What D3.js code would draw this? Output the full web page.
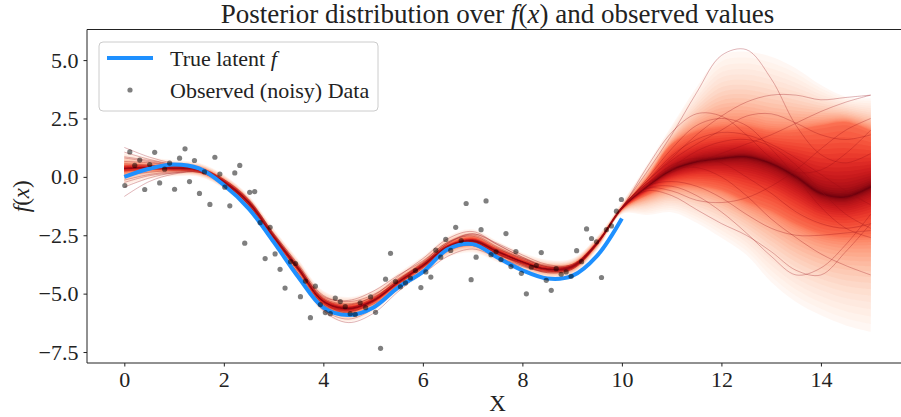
<!DOCTYPE html>
<html>
<head>
<meta charset="utf-8">
<script src="https://cdn.jsdelivr.net/npm/d3@7"></script>
<style>
  body { margin: 0; background: #fff; }
  svg { display: block; font-family: "Liberation Serif", "DejaVu Serif", serif; }
</style>
</head>
<body>
<div id="chart"></div>
<script>
// grid the posterior was evaluated on
const gridX = [0, 0.5, 1, 1.5, 2, 2.5, 3, 3.5, 4, 4.5, 5, 5.5, 6, 6.5, 7, 7.5, 8, 8.5, 9, 9.5,
  10, 10.5, 11, 11.5, 12, 12.5, 13, 13.5, 14, 14.5, 15]

// posterior median and spread (distance from the median to the 75th / 99th percentile)
const postMedian = [0.36, 0.40, 0.37, 0.30, -0.21, -1.1, -2.57, -3.95, -5.33, -5.64, -5.3, -4.52, -3.8, -3.0, -2.74,
  -3.2, -3.64, -3.95, -3.85, -2.85, -1.35, -0.43, 0.29, 0.64, 0.79, 0.86, 0.57, 0.0, -0.71, -0.86, -0.43]
const q75Up = [0.15, 0.1, 0.1, 0.1, 0.1, 0.1, 0.1, 0.1, 0.12, 0.15, 0.12, 0.1, 0.1, 0.12, 0.15, 0.12, 0.1, 0.1, 0.1, 0.08,
  0.06, 0.35, 1.1, 1.3, 1.35, 1.3, 1.4, 2.0, 2.9, 3.2, 2.4]
const q75Down = [0.15, 0.1, 0.1, 0.1, 0.1, 0.1, 0.1, 0.1, 0.12, 0.15, 0.12, 0.1, 0.1, 0.12, 0.15, 0.12, 0.1, 0.1, 0.1, 0.08,
  0.06, 0.35, 0.7, 1.0, 1.35, 1.9, 2.0, 2.0, 1.7, 1.7, 2.1]
const q99Up = [0.7, 0.45, 0.35, 0.3, 0.3, 0.3, 0.35, 0.4, 0.45, 0.5, 0.45, 0.4, 0.4, 0.45, 0.5, 0.45, 0.4, 0.4, 0.35, 0.3,
  0.25, 0.95, 1.9, 3.2, 4.4, 4.5, 4.57, 4.64, 4.64, 4.29, 3.8]
const q99Down = [0.8, 0.5, 0.35, 0.3, 0.3, 0.3, 0.35, 0.4, 0.5, 0.6, 0.5, 0.4, 0.4, 0.45, 0.5, 0.45, 0.4, 0.4, 0.35, 0.3,
  0.25, 1.2, 1.8, 2.6, 3.4, 4.2, 5.07, 5.36, 5.22, 5.5, 6.2]

// a few posterior draws: small wiggle round the median for x < 10, values for x = 10 .. 15
const sampleWiggle = [
  [0.5, 0.3, 0.15, 0.1, 0.1, 0.12, 0.15, 0.2, 0.25, 0.3, 0.25, 0.15, 0.1, 0.15, 0.25, 0.2, 0.15, 0.1, 0.05, 0.0],
  [-0.6, -0.35, -0.2, -0.1, -0.05, -0.08, -0.15, -0.25, -0.35, -0.45, -0.35, -0.2, -0.1, -0.1, -0.2, -0.25, -0.2, -0.1, -0.05, 0.0],
  [0.3, 0.2, 0.1, 0.0, -0.05, -0.05, 0.0, 0.05, 0.1, 0.15, 0.2, 0.25, 0.3, 0.35, 0.4, 0.3, 0.2, 0.15, 0.1, 0.05],
  [-1.2, -0.6, -0.25, -0.1, -0.05, -0.1, -0.2, -0.3, -0.4, -0.6, -0.55, -0.4, -0.25, -0.15, -0.1, -0.1, -0.15, -0.15, -0.1, -0.05],
  [0.1, 0.1, 0.05, 0.0, -0.05, -0.1, -0.1, -0.05, 0.0, 0.05, 0.1, 0.1, 0.05, 0.0, -0.05, -0.1, -0.1, -0.05, 0.0, 0.0],
  [0.7, 0.35, 0.15, 0.05, 0.0, 0.05, 0.1, 0.1, 0.05, 0.0, -0.05, 0.0, 0.05, 0.15, 0.3, 0.35, 0.3, 0.2, 0.1, 0.05],
  [-0.3, -0.2, -0.1, -0.05, 0.0, 0.05, 0.1, 0.05, -0.05, -0.2, -0.3, -0.3, -0.2, -0.1, 0.0, 0.05, 0.0, -0.05, -0.05, 0.0],
  [0.2, 0.1, 0.05, 0.05, 0.1, 0.15, 0.1, 0.0, -0.15, -0.3, -0.25, -0.1, 0.0, 0.05, 0.0, -0.05, -0.1, -0.15, -0.1, -0.05],
  [-0.5, -0.3, -0.15, -0.05, 0.0, 0.0, -0.05, -0.1, -0.1, -0.05, 0.05, 0.1, 0.15, 0.2, 0.2, 0.15, 0.1, 0.05, 0.0, 0.0],
  [0.45, 0.25, 0.1, 0.0, -0.05, -0.1, -0.15, -0.2, -0.2, -0.15, -0.05, 0.05, 0.1, 0.05, -0.05, -0.1, -0.05, 0.0, 0.05, 0.05],
  [-0.8, -0.45, -0.2, -0.1, -0.1, -0.15, -0.2, -0.2, -0.15, -0.1, -0.15, -0.25, -0.35, -0.4, -0.35, -0.25, -0.15, -0.1, -0.05, -0.05],
  [0.0, 0.0, 0.0, 0.05, 0.05, 0.1, 0.15, 0.15, 0.1, 0.05, 0.0, -0.05, -0.05, 0.0, 0.05, 0.1, 0.15, 0.1, 0.05, 0.0],
  [-0.1, -0.1, -0.05, 0.0, 0.0, 0.0, 0.05, 0.1, 0.15, 0.2, 0.15, 0.05, -0.05, -0.15, -0.2, -0.15, -0.05, 0.0, 0.0, 0.0],
  [0.9, 0.45, 0.2, 0.1, 0.05, 0.05, 0.05, 0.1, 0.2, 0.35, 0.4, 0.3, 0.2, 0.2, 0.3, 0.3, 0.2, 0.1, 0.05, 0.05]
]
const sampleTails = [
  [-1.3, 0.2, 1.8, 3.6, 5.2, 5.45, 4.2, 2.2, 0.95, 0.6, 1.0],
  [-1.35, 0.4, 1.9, 2.7, 2.6, 1.8, 0.8, 0.2, 0.3, 1.0, 2.0],
  [-1.3, -0.2, 0.8, 1.8, 2.6, 3.2, 3.5, 3.5, 3.3, 3.4, 3.5],
  [-1.3, -0.3, 0.2, 0.6, 1.0, 1.4, 1.8, 2.3, 2.8, 3.2, 3.5],
  [-1.35, -0.1, 1.2, 2.2, 2.5, 2.2, 1.2, 0.0, -1.3, -2.2, -2.6],
  [-1.3, -0.5, -0.4, -0.8, -1.5, -2.4, -3.4, -4.2, -3.9, -2.9, -1.6],
  [-1.3, -0.6, -0.8, -1.4, -2.0, -2.5, -3.2, -4.0, -4.2, -3.2, -2.0],
  [-1.35, -0.4, 0.3, 0.4, 0.0, -0.8, -1.8, -2.6, -3.3, -3.8, -4.2],
  [-1.3, -0.3, 0.5, 0.8, 0.6, 0.0, -0.7, -1.5, -2.0, -2.2, -2.0],
  [-1.3, -0.2, 0.9, 1.6, 1.9, 1.8, 1.4, 0.8, 0.1, -0.6, -1.2],
  [-1.3, -0.4, -0.2, -0.4, -0.9, -1.6, -2.2, -2.5, -2.5, -2.4, -2.3],
  [-1.3, -0.3, 0.4, 1.1, 1.5, 1.6, 1.3, 0.5, -0.6, -1.6, -2.2],
  [-1.35, -0.5, -0.6, -1.0, -1.1, -0.9, -0.4, 0.3, 1.2, 2.0, 2.5],
  [-1.3, -0.2, 0.7, 1.4, 2.0, 2.6, 2.7, 2.3, 1.8, 1.6, 1.8]
]

// true latent function on x = 0 .. 10
const trueX = [0, 0.5, 1, 1.5, 2, 2.5, 3, 3.5, 4, 4.5, 5, 5.5, 6, 6.5, 7, 7.5, 8, 8.5, 9, 9.5, 10]
const trueF = [0.0, 0.35, 0.53, 0.36, -0.35, -1.36, -2.78, -4.3, -5.6, -5.92, -5.6, -4.74, -4.07, -3.1, -2.88,
  -3.45, -4.0, -4.35, -4.24, -3.38, -1.78]

// observed noisy data
const obsX = [0.01, 0.11, 0.21, 0.31, 0.41, 0.51, 0.61, 0.71, 0.81, 0.91, 1.01, 1.11, 1.22, 1.31, 1.41, 1.51, 1.61,
  1.72, 1.82, 1.92, 2.02, 2.12, 2.22, 2.32, 2.42, 2.52, 2.62, 2.73, 2.83, 2.93, 3.03, 3.13, 3.23, 3.34, 3.44, 3.54,
  3.64, 3.74, 3.84, 3.94, 4.04, 4.14, 4.24, 4.34, 4.44, 4.54, 4.64, 4.74, 4.85, 4.95, 5.05, 5.15, 5.25, 5.35, 5.45,
  5.55, 5.65, 5.75, 5.85, 5.96, 6.06, 6.16, 6.26, 6.36, 6.46, 6.56, 6.66, 6.77, 6.87, 6.97, 7.07, 7.17, 7.27, 7.37,
  7.47, 7.57, 7.67, 7.77, 7.87, 7.98, 8.08, 8.18, 8.28, 8.38, 8.48, 8.58, 8.68, 8.78, 8.88, 8.98, 9.09, 9.19, 9.29,
  9.39, 9.49, 9.59, 9.69, 9.79, 9.89, 9.99]
const obsY = [-0.37, 1.07, 0.49, 0.72, -0.54, 0.53, 1.05, -0.26, 0.33, 0.59, -0.53, 0.80, 1.20, -0.20, 0.70, -0.71,
  0.21, -1.18, 0.84, 0.12, -0.44, -1.24, 0.17, 0.49, -2.84, -0.66, -0.63, -1.96, -3.50, -2.16, -3.30, -3.96, -4.76,
  -3.63, -3.71, -5.13, -4.46, -6.03, -4.68, -5.47, -5.81, -5.86, -5.19, -5.34, -5.56, -5.86, -5.89, -5.39, -5.60,
  -5.14, -5.80, -7.34, -4.38, -3.28, -4.48, -4.71, -4.54, -4.33, -4.01, -4.74, -4.07, -4.29, -3.14, -3.44, -2.68,
  -3.15, -2.16, -2.73, -1.14, -4.40, -3.44, -2.26, -1.03, -3.33, -3.21, -3.54, -2.43, -3.84, -3.20, -4.13, -5.01,
  -3.87, -3.80, -3.24, -4.43, -4.86, -3.93, -4.17, -4.07, -4.26, -3.16, -3.63, -2.23, -2.64, -2.78, -4.31, -2.26,
  -2.10, -1.47, -0.97]

const xTicks = [0, 2, 4, 6, 8, 10, 12, 14]
const yTicks = [-7.5, -5, -2.5, 0, 2.5, 5]

const width = 901
const height = 417
const plot = { left: 87, right: 908, top: 29.5, bottom: 363 }

const svg = d3.select("#chart").append("svg")
  .attr("width", width)
  .attr("height", height)

const x = d3.scaleLinear().domain([-0.75, 15.75]).range([plot.left, plot.right])
const y = d3.scaleLinear().domain([-7.97, 6.31]).range([plot.bottom, plot.top])

// percentile bands, outermost (lightest) first, like plot_gp_dist
const percs = d3.range(40).map((i) => 51 + i * 48 / 39)
// inner percentiles bunch up near the median, the lightest ones spread out to the 99th
const offset = (p, q75, q99) => p <= 75
  ? q75 * Math.pow((p - 50) / 25, 1.7)
  : q75 + (q99 - q75) * Math.pow((p - 75) / 24, 1.6)
const curve = d3.curveCatmullRom.alpha(0.5)

const bands = svg.append("g")
percs.slice().reverse().forEach((p) => {
  const area = d3.area()
    .x((d, i) => x(gridX[i]))
    .y0((d, i) => y(postMedian[i] - offset(p, q75Down[i], q99Down[i])))
    .y1((d, i) => y(postMedian[i] + offset(p, q75Up[i], q99Up[i])))
    .curve(curve)
  bands.append("path")
    .attr("d", area(gridX))
    .attr("fill", d3.interpolateReds((99 - p) / 48))
    .attr("fill-opacity", 0.8)
})

// sample paths
const samples = sampleTails.map((tail, k) =>
  gridX.map((gx, i) => i < 20 ? postMedian[i] + sampleWiggle[k][i] : tail[i - 20]))

const sampleLine = d3.line()
  .x((d, i) => x(gridX[i]))
  .y((d) => y(d))
  .curve(curve)

svg.append("g")
  .selectAll("path")
  .data(samples)
  .join("path")
  .attr("d", sampleLine)
  .attr("fill", "none")
  .attr("stroke", d3.interpolateReds(0.9))
  .attr("stroke-width", 1)
  .attr("stroke-opacity", 0.3)

// true latent f
const trueLine = d3.line()
  .x((d, i) => x(trueX[i]))
  .y((d) => y(d))
  .curve(curve)

svg.append("path")
  .attr("d", trueLine(trueF))
  .attr("fill", "none")
  .attr("stroke", "#1e90ff")
  .attr("stroke-width", 4)

// observed points
svg.append("g")
  .selectAll("circle")
  .data(obsX)
  .join("circle")
  .attr("cx", (d) => x(d))
  .attr("cy", (d, i) => y(obsY[i]))
  .attr("r", 2.6)
  .attr("fill", "#000")
  .attr("fill-opacity", 0.5)

// axes
const xAxis = svg.append("g")
  .attr("transform", `translate(0,${plot.bottom})`)
  .call(d3.axisBottom(x).tickValues(xTicks).tickFormat(d3.format("d")).tickSize(3.5).tickPadding(5))
const yAxis = svg.append("g")
  .attr("transform", `translate(${plot.left},0)`)
  .call(d3.axisLeft(y).tickValues(yTicks).tickFormat(d3.format(".1f")).tickSize(3.5).tickPadding(5))

;[xAxis, yAxis].forEach((ax) => {
  ax.select(".domain").remove()
  ax.selectAll("line").attr("stroke", "#222")
  ax.selectAll("text")
    .attr("fill", "#222")
    .style("font-size", "22px")
    .style("font-family", '"Liberation Serif", serif')
})

// spines
const spines = svg.append("g").attr("stroke", "#222").attr("stroke-width", 1)
spines.append("line").attr("x1", plot.left).attr("x2", plot.left).attr("y1", plot.top).attr("y2", plot.bottom)
spines.append("line").attr("x1", plot.left).attr("x2", width).attr("y1", plot.bottom).attr("y2", plot.bottom)
spines.append("line").attr("x1", plot.left).attr("x2", width).attr("y1", plot.top).attr("y2", plot.top)

// title and labels
const title = svg.append("text")
  .attr("x", (plot.left + plot.right) / 2)
  .attr("y", 23)
  .attr("text-anchor", "middle")
  .style("font-size", "27px")
  .attr("fill", "#222")
title.append("tspan").text("Posterior distribution over ")
title.append("tspan").text("f").style("font-style", "italic")
title.append("tspan").text("(")
title.append("tspan").text("x").style("font-style", "italic")
title.append("tspan").text(") and observed values")

svg.append("text")
  .attr("x", (plot.left + plot.right) / 2)
  .attr("y", 411)
  .attr("text-anchor", "middle")
  .style("font-size", "23px")
  .attr("fill", "#222")
  .text("X")

const ylab = svg.append("text")
  .attr("transform", `translate(29,${(plot.top + plot.bottom) / 2}) rotate(-90)`)
  .attr("text-anchor", "middle")
  .style("font-size", "23px")
  .attr("fill", "#222")
ylab.append("tspan").text("f").style("font-style", "italic")
ylab.append("tspan").text("(")
ylab.append("tspan").text("x").style("font-style", "italic")
ylab.append("tspan").text(")")

// legend
const legend = svg.append("g")
legend.append("rect")
  .attr("x", 99).attr("y", 42).attr("width", 279).attr("height", 69).attr("rx", 4)
  .attr("fill", "#fff").attr("fill-opacity", 0.8)
  .attr("stroke", "#ccc")
legend.append("line")
  .attr("x1", 107).attr("x2", 153).attr("y1", 58).attr("y2", 58)
  .attr("stroke", "#1e90ff").attr("stroke-width", 4)
legend.append("circle")
  .attr("cx", 130).attr("cy", 90).attr("r", 2.6)
  .attr("fill", "#000").attr("fill-opacity", 0.5)
const l1 = legend.append("text").attr("x", 170).attr("y", 65.5).style("font-size", "22px").attr("fill", "#222")
l1.append("tspan").text("True latent ")
l1.append("tspan").text("f").style("font-style", "italic")
legend.append("text").attr("x", 170).attr("y", 97.5).style("font-size", "22px").attr("fill", "#222")
  .text("Observed (noisy) Data")
</script>
</body>
</html>
